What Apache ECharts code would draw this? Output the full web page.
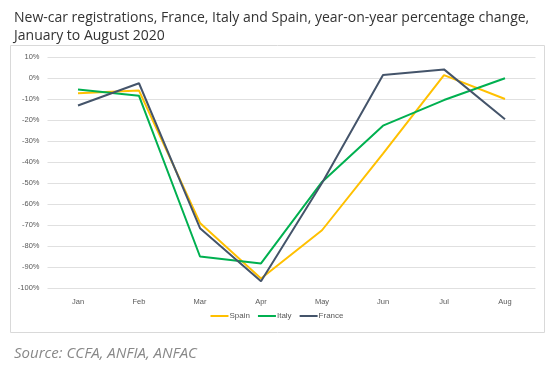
<!DOCTYPE html>
<html><head><meta charset="utf-8">
<script src="https://cdn.jsdelivr.net/npm/echarts@6/dist/echarts.min.js"></script>
<style>html,body{margin:0;padding:0;background:#fff}#c{width:554px;height:365px}</style>
</head><body><div id="c"></div>
<script>
var months = ['Jan','Feb','Mar','Apr','May','Jun','Jul','Aug'];
var spain  = [-7.3, -6, -69, -95.5, -72.5, -36, 1.4, -10];
var italy  = [-5.5, -8.5, -85, -88.3, -49.5, -22.7, -10.5, -0.1];
var france = [-13.1, -2.5, -71.5, -96.8, -50, 1.4, 4.1, -19.6];
var titleText = 'New-car registrations, France, Italy and Spain, year-on-year percentage change,\nJanuary to August 2020';
var sourceText = 'Source: CCFA, ANFIA, ANFAC';

var chart = echarts.init(document.getElementById('c'));
var lab = {color:'#595959', fontSize:7.5, fontFamily:'Liberation Sans, Arial'};
chart.setOption({
  animation:false,
  title:[{text:titleText,left:9,top:4,textStyle:{fontFamily:'Open Sans, Noto Sans',fontWeight:'normal',fontSize:14,color:'#333',lineHeight:18}},
         {text:sourceText,left:9,top:341,textStyle:{fontFamily:'Open Sans, Noto Sans',fontStyle:'italic',fontWeight:'normal',fontSize:15,color:'#888'}}],
  graphic:[{type:'rect',shape:{x:10.5,y:45.5,width:534,height:287},style:{fill:'none',stroke:'#d9d9d9',lineWidth:1}}],
  grid:{left:47.5,right:18.5,top:57,bottom:77},
  legend:{bottom:40,left:'center',itemWidth:18,itemHeight:2,itemGap:8,icon:'rect',
    textStyle:{color:'#595959',fontSize:8,fontFamily:'Liberation Sans, Arial',padding:[0,0,0,-4]},
    data:['Spain','Italy','France']},
  xAxis:{type:'category',data:months,boundaryGap:true,axisLine:{show:false},axisTick:{show:false},axisLabel:Object.assign({margin:10},lab)},
  yAxis:{type:'value',min:-100,max:10,interval:10,axisLabel:Object.assign({formatter:'{value}%',margin:8},lab),
    splitLine:{lineStyle:{color:'#e0e0e0',width:1}},axisLine:{show:false},axisTick:{show:false}},
  series:[
    {name:'Spain',type:'line',data:spain,symbol:'none',lineStyle:{width:2,color:'#FFC000'},itemStyle:{color:'#FFC000'}},
    {name:'Italy',type:'line',data:italy,symbol:'none',lineStyle:{width:2,color:'#00B050'},itemStyle:{color:'#00B050'}},
    {name:'France',type:'line',data:france,symbol:'none',lineStyle:{width:2,color:'#44546A'},itemStyle:{color:'#44546A'}}
  ]
});
</script></body></html>
